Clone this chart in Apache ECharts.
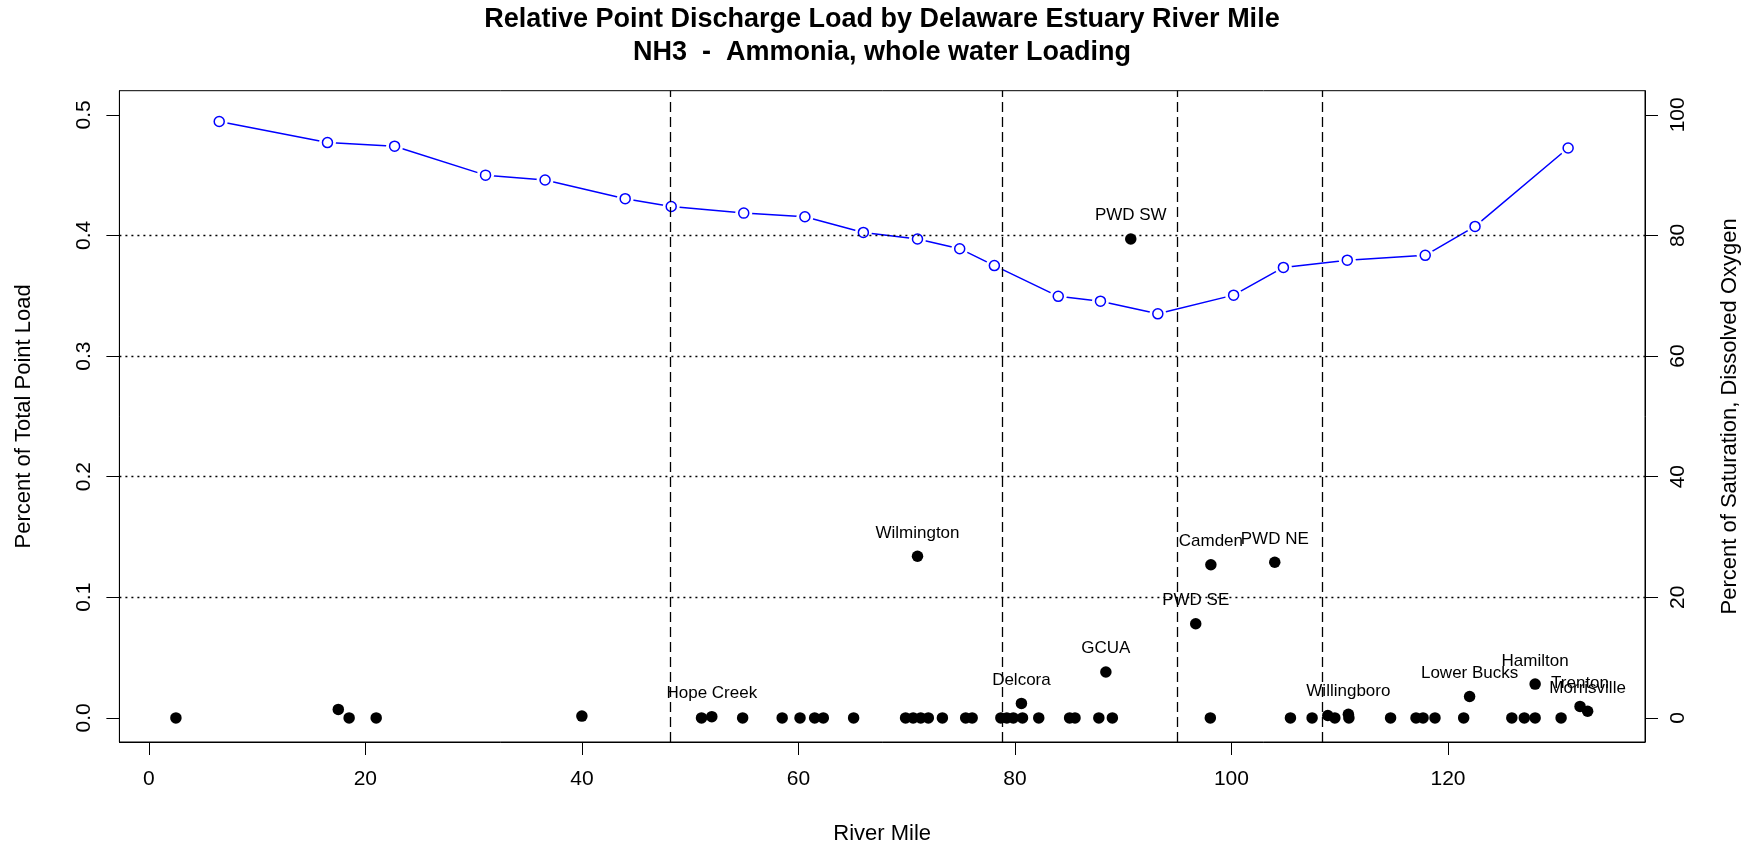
<!DOCTYPE html>
<html>
<head>
<meta charset="utf-8">
<script src="https://cdn.jsdelivr.net/npm/echarts@6/dist/echarts.min.js"></script>
<style>html,body{margin:0;padding:0;background:#fff;}#c{width:1754px;height:850px;}</style>
</head>
<body>
<div id="c"></div>
<script>
// ---------- data ----------
const titleLine1 = 'Relative Point Discharge Load by Delaware Estuary River Mile';
const titleLine2 = 'NH3  -  Ammonia, whole water Loading';
const xName = 'River Mile';
const yName = 'Percent of Total Point Load';
const y2Name = 'Percent of Saturation, Dissolved Oxygen';

const xTicks = [0, 20, 40, 60, 80, 100, 120];
const yTicks = [0, 0.1, 0.2, 0.3, 0.4, 0.5];
const y2Ticks = [0, 20, 40, 60, 80, 100];

// point discharges
const siteName = ['', '', '', '', '', '', 'Hope Creek', '', '', '', '', '', '', '', '', 'Wilmington', '', '', '', '', '', '', '', '', 'Delcora', '', '', '', '', '', 'GCUA', '', 'PWD SW', 'PWD SE', '', 'Camden', 'PWD NE', '', '', '', '', 'Willingboro', '', '', '', '', '', '', 'Lower Bucks', '', '', 'Hamilton', '', '', 'Trenton', 'Morrisville'];
const siteMile = [2.5, 17.5, 18.5, 21.0, 40.0, 51.05, 52.0, 54.85, 58.5, 60.15, 61.5, 62.3, 65.1, 69.9, 70.6, 71.0, 71.3, 72.0, 73.3, 75.45, 76.05, 78.7, 79.25, 79.85, 80.6, 80.7, 82.2, 85.05, 85.55, 87.75, 88.4, 89.0, 90.7, 96.7, 98.05, 98.1, 104.0, 105.45, 107.45, 108.9, 109.55, 110.8, 110.85, 114.7, 117.05, 117.7, 118.8, 121.45, 122.0, 125.9, 127.05, 128.05, 128.05, 130.45, 132.2, 132.9];
const siteLoad = [0, 0.007, 0, 0, 0.0015, 0, 0.001, 0, 0, 0, 0, 0, 0, 0, 0, 0.134, 0, 0, 0, 0, 0, 0, 0, 0, 0.012, 0, 0, 0, 0, 0, 0.038, 0, 0.397, 0.078, 0, 0.127, 0.129, 0, 0, 0.002, 0, 0.003, 0, 0, 0, 0, 0, 0, 0.0177, 0, 0, 0.028, 0, 0, 0.0095, 0.0055];

// median DO saturation
const doMile = [6.5, 16.5, 22.7, 31.1, 36.6, 44.0, 48.25, 54.95, 60.6, 66.0, 71.0, 74.9, 78.1, 84.0, 87.9, 93.2, 100.2, 104.8, 110.7, 117.9, 122.5, 131.1];
const doSat = [98.9, 95.4, 94.8, 90.0, 89.2, 86.1, 84.8, 83.7, 83.1, 80.5, 79.4, 77.8, 75.0, 69.9, 69.1, 67.0, 70.1, 74.7, 75.9, 76.7, 81.5, 94.5];

// zones
const zoneBounds = [48.2, 78.8, 95.0, 108.4];
const zoneNames = ['Zone 6', 'Zone 5', 'Zone 4', 'Zone 3', 'Zone 2'];
const zoneLabelMile = [24.1, 63.5, 86.9, 101.7, 120.9];
const zoneLabelLoad = [0.5, 0.5, 0.5, 0.5, 0.5];

const refLoad = [0.1, 0.2, 0.3, 0.4];

const annoText = ['Median DO Saturation', 'July & August Observations', 'Boat Run 2005-2016'];
const annoMile = [122.1];
const annoLoad = [0.339];

// axis extents
const xMin = -2.72, xMax = 138.2;
const yMin = -0.02, yMax = 0.52;
const y2Min = -4, y2Max = 104;

// ---------- chart ----------
const FONT = '"Liberation Sans", Arial, sans-serif';
const BLUE = '#0000FF';
const chart = echarts.init(document.getElementById('c'), null, {renderer: 'canvas'});

const siteData = siteMile.map((m, i) => {
  const d = {value: [m, siteLoad[i]], name: siteName[i]};
  if (siteName[i]) {
    d.label = {show: true, formatter: siteName[i]};
  }
  return d;
});

const option = {
  animation: false,
  backgroundColor: '#fff',
  title: {
    text: titleLine1 + '\n' + titleLine2,
    left: 882, top: 3, textAlign: 'center', padding: 0,
    textStyle: {fontFamily: FONT, fontSize: 27, fontWeight: 'bold', color: '#000', lineHeight: 33}
  },
  grid: {left: 119.4, right: 109, top: 90.7, bottom: 107.3, show: true, borderColor: '#000', borderWidth: 1, backgroundColor: 'transparent'},
  xAxis: {
    type: 'value', min: xMin, max: xMax,
    name: xName, nameLocation: 'middle', nameGap: 81,
    nameTextStyle: {fontFamily: FONT, fontSize: 22, color: '#000'},
    axisLine: {show: true, onZero: false, lineStyle: {color: '#000', width: 1}},
    axisTick: {show: true, length: 13, customValues: xTicks, lineStyle: {color: '#000'}},
    axisLabel: {customValues: xTicks, margin: 27, fontFamily: FONT, fontSize: 21, color: '#000'},
    splitLine: {show: false}
  },
  yAxis: [{
    type: 'value', min: yMin, max: yMax, position: 'left',
    name: yName, nameLocation: 'middle', nameGap: 84, nameRotate: 90,
    nameTextStyle: {fontFamily: FONT, fontSize: 22, color: '#000'},
    axisLine: {show: true, onZero: false, lineStyle: {color: '#000', width: 1}},
    axisTick: {show: true, length: 13, customValues: yTicks, lineStyle: {color: '#000'}},
    axisLabel: {customValues: yTicks, rotate: 90, margin: 25, fontFamily: FONT, fontSize: 21, color: '#000',
      formatter: v => v.toFixed(1)},
    splitLine: {show: false}
  }, {
    type: 'value', min: y2Min, max: y2Max, position: 'right',
    name: y2Name, nameLocation: 'middle', nameGap: 74, nameRotate: 90,
    nameTextStyle: {fontFamily: FONT, fontSize: 22, color: '#000'},
    axisLine: {show: true, onZero: false, lineStyle: {color: '#000', width: 1}},
    axisTick: {show: true, length: 13, customValues: y2Ticks, lineStyle: {color: '#000'}},
    axisLabel: {customValues: y2Ticks, rotate: 90, margin: 23, fontFamily: FONT, fontSize: 21, color: '#000'},
    splitLine: {show: false}
  }],
  series: [
    // DO line with white halo gaps
    {
      type: 'line', yAxisIndex: 1, z: 2,
      data: doMile.map((m, i) => [m, doSat[i]]),
      symbol: 'circle', symbolSize: 17, showSymbol: true,
      itemStyle: {color: '#fff', borderWidth: 0, opacity: 1},
      lineStyle: {color: BLUE, width: 1.5},
      silent: true
    },
    // reference lines
    {
      type: 'scatter', z: 3, data: [], silent: true,
      markLine: {
        silent: true, symbol: 'none', animation: false,
        label: {show: false},
        data: refLoad.map(v => ({yAxis: v, lineStyle: {type: [2, 4], color: '#000', width: 1.3, opacity: 1}}))
          .concat(zoneBounds.map(v => ({xAxis: v, lineStyle: {type: [10, 5], color: '#000', width: 1.3, opacity: 1}})))
      }
    },
    // DO circles
    {
      type: 'scatter', yAxisIndex: 1, z: 4,
      data: doMile.map((m, i) => [m, doSat[i]]),
      symbol: 'circle', symbolSize: 10,
      itemStyle: {color: 'rgba(255,255,255,0)', borderColor: BLUE, borderWidth: 1.5, opacity: 1},
      silent: true
    },
    // discharge points
    {
      type: 'scatter', z: 5,
      data: siteData,
      symbol: 'circle', symbolSize: 11.5,
      itemStyle: {color: '#000', opacity: 1},
      label: {show: false, position: 'top', distance: 9, fontFamily: FONT, fontSize: 17, color: '#000', opacity: 1},
      silent: true
    },
    // zone labels
    {
      type: 'scatter', z: 6,
      data: zoneLabelMile.map((m, i) => ({value: [m, zoneLabelLoad[i]], name: zoneNames[i]})),
      symbol: 'none', symbolSize: 0,
      label: {show: true, position: 'inside', formatter: p => p.name, fontFamily: FONT, fontSize: 22, color: '#000'},
      silent: true
    },
    // blue annotation
    {
      type: 'scatter', z: 6,
      data: annoMile.map((m, i) => ({value: [m, annoLoad[i]], name: annoText.join('\n')})),
      symbol: 'none', symbolSize: 0,
      label: {show: true, position: 'inside', formatter: p => p.name, fontFamily: FONT, fontSize: 17.5, lineHeight: 21.5, color: BLUE, align: 'center'},
      silent: true
    }
  ]
};
chart.setOption(option);
</script>
</body>
</html>
